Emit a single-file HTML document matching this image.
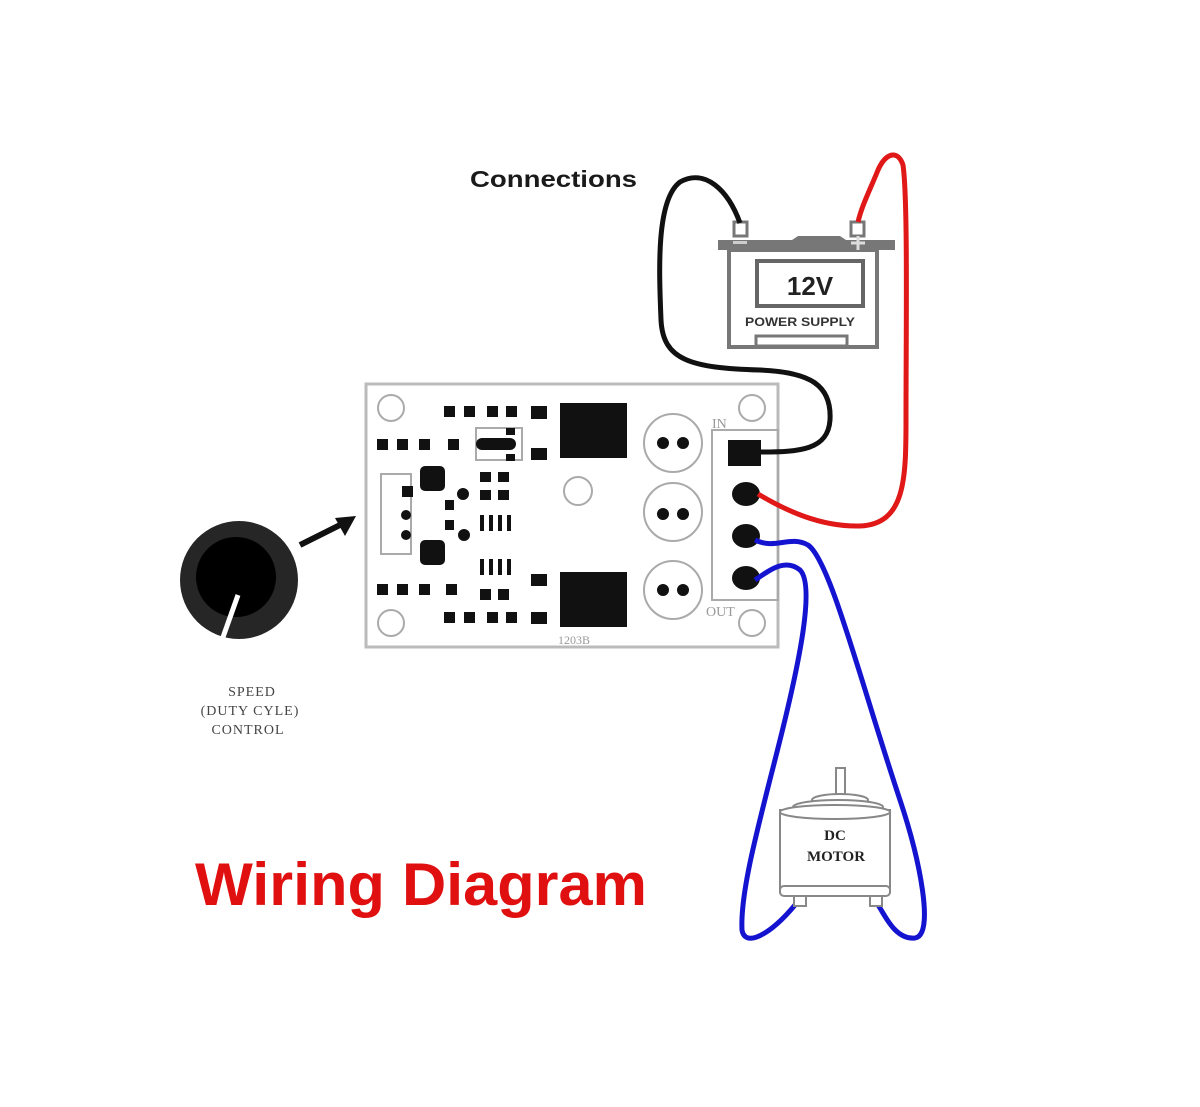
<!DOCTYPE html>
<html><head><meta charset="utf-8"><style>
html,body{margin:0;padding:0;background:#fff;}
svg{display:block;}
</style></head><body>
<svg width="1200" height="1107" viewBox="0 0 1200 1107" xmlns="http://www.w3.org/2000/svg">
<rect width="1200" height="1107" fill="#fff"/>
<text x="470" y="187" font-family="Liberation Sans, sans-serif" font-weight="bold" font-size="23" fill="#1a1a1a" textLength="167" lengthAdjust="spacingAndGlyphs">Connections</text>

<!-- Battery -->
<rect x="734" y="222" width="13" height="14" fill="#fff" stroke="#777" stroke-width="3"/>
<rect x="851" y="222" width="13" height="14" fill="#fff" stroke="#777" stroke-width="3"/>
<path d="M718 250 L718 240 L792 240 L798 236 L840 236 L846 240 L895 240 L895 250 Z" fill="#777"/>
<rect x="729" y="250" width="148" height="97" fill="#fff" stroke="#777" stroke-width="4"/>
<rect x="757" y="261" width="106" height="45" fill="#fff" stroke="#666" stroke-width="4"/>
<text x="810" y="295" text-anchor="middle" font-family="Liberation Sans, sans-serif" font-weight="bold" font-size="26" fill="#222">12V</text>
<text x="800" y="326" text-anchor="middle" font-family="Liberation Sans, sans-serif" font-weight="bold" font-size="12" fill="#333" textLength="110" lengthAdjust="spacingAndGlyphs">POWER SUPPLY</text>
<rect x="756" y="336" width="91" height="10" fill="#fff" stroke="#777" stroke-width="3"/>
<rect x="733" y="241" width="14" height="3" fill="#ccc"/>
<path d="M851 243 h14 M858 236 v14" stroke="#ddd" stroke-width="3"/>

<!-- PCB -->
<rect x="366" y="384" width="412" height="263" fill="#fff" stroke="#bbb" stroke-width="3"/>
<g fill="none" stroke="#aaa" stroke-width="2">
<circle cx="391" cy="408" r="13"/><circle cx="752" cy="408" r="13"/>
<circle cx="391" cy="623" r="13"/><circle cx="752" cy="623" r="13"/>
<circle cx="578" cy="491" r="14"/>
<circle cx="673" cy="443" r="29"/><circle cx="673" cy="512" r="29"/><circle cx="673" cy="590" r="29"/>
<rect x="712" y="430" width="66" height="170"/>
<rect x="381" y="474" width="30" height="80"/>
<rect x="476" y="428" width="46" height="32"/>
</g>
<g fill="#111">
<rect x="560" y="403" width="67" height="55"/>
<rect x="560" y="572" width="67" height="55"/>
<circle cx="663" cy="443" r="6"/><circle cx="683" cy="443" r="6"/>
<circle cx="663" cy="514" r="6"/><circle cx="683" cy="514" r="6"/>
<circle cx="663" cy="590" r="6"/><circle cx="683" cy="590" r="6"/>
<rect x="728" y="440" width="33" height="26"/>
<ellipse cx="746" cy="494" rx="14" ry="12"/>
<ellipse cx="746" cy="536" rx="14" ry="12"/>
<ellipse cx="746" cy="578" rx="14" ry="12"/>
<!-- top row -->
<rect x="444" y="406" width="11" height="11"/><rect x="464" y="406" width="11" height="11"/>
<rect x="487" y="406" width="11" height="11"/><rect x="506" y="406" width="11" height="11"/>
<rect x="531" y="406" width="16" height="13"/>
<rect x="377" y="439" width="11" height="11"/><rect x="397" y="439" width="11" height="11"/>
<rect x="419" y="439" width="11" height="11"/><rect x="448" y="439" width="11" height="11"/>
<rect x="476" y="438" width="40" height="12" rx="6"/>
<rect x="506" y="428" width="9" height="7"/><rect x="506" y="454" width="9" height="7"/>
<rect x="531" y="448" width="16" height="12"/>
<rect x="420" y="466" width="25" height="25" rx="5"/>
<rect x="420" y="540" width="25" height="25" rx="5"/>
<rect x="402" y="486" width="11" height="11"/>
<circle cx="406" cy="515" r="5"/><circle cx="406" cy="535" r="5"/>
<circle cx="463" cy="494" r="6"/><circle cx="464" cy="535" r="6"/>
<rect x="445" y="500" width="9" height="10"/><rect x="445" y="520" width="9" height="10"/>
<rect x="480" y="472" width="11" height="10"/><rect x="498" y="472" width="11" height="10"/>
<rect x="480" y="490" width="11" height="10"/><rect x="498" y="490" width="11" height="10"/>
<rect x="480" y="515" width="4" height="16"/><rect x="489" y="515" width="4" height="16"/><rect x="498" y="515" width="4" height="16"/><rect x="507" y="515" width="4" height="16"/>
<rect x="480" y="559" width="4" height="16"/><rect x="489" y="559" width="4" height="16"/><rect x="498" y="559" width="4" height="16"/><rect x="507" y="559" width="4" height="16"/>
<rect x="531" y="574" width="16" height="12"/>
<rect x="377" y="584" width="11" height="11"/><rect x="397" y="584" width="11" height="11"/>
<rect x="419" y="584" width="11" height="11"/><rect x="446" y="584" width="11" height="11"/>
<rect x="480" y="589" width="11" height="11"/><rect x="498" y="589" width="11" height="11"/>
<rect x="444" y="612" width="11" height="11"/><rect x="464" y="612" width="11" height="11"/>
<rect x="487" y="612" width="11" height="11"/><rect x="506" y="612" width="11" height="11"/>
<rect x="531" y="612" width="16" height="12"/>
</g>
<g font-family="Liberation Serif, serif" fill="#999" font-size="14">
<text x="712" y="428">IN</text>
<text x="706" y="616">OUT</text>
<text x="558" y="644" font-size="12">1203B</text>
</g>

<!-- Wires -->
<path d="M760 452 C800 452 828 450 830 420 C832 385 810 372 760 370 C690 368 663 360 661 320 C659 270 656 200 680 182 C705 168 728 190 740 223" fill="none" stroke="#111" stroke-width="5"/>
<path d="M758 494 C785 510 820 527 860 526 C905 524 906 480 906 420 C906 330 908 200 903 165 C898 150 886 152 878 170 C870 190 862 205 858 222" fill="none" stroke="#e01818" stroke-width="5"/>
<path d="M755 540 C775 550 790 535 808 545 C830 560 860 680 900 800 C920 860 935 935 915 938 C895 940 885 915 878 905" fill="none" stroke="#1414d0" stroke-width="5"/>
<path d="M755 580 C770 570 785 558 800 570 C815 585 800 660 780 740 C760 820 740 890 742 930 C745 948 770 935 795 905" fill="none" stroke="#1414d0" stroke-width="5"/>

<!-- Motor -->
<rect x="836" y="768" width="9" height="28" fill="#fff" stroke="#888" stroke-width="2"/>
<ellipse cx="840" cy="800" rx="28" ry="6" fill="#fff" stroke="#888" stroke-width="2"/>
<ellipse cx="838" cy="807" rx="45" ry="7" fill="#fff" stroke="#888" stroke-width="2"/>
<rect x="780" y="810" width="110" height="82" fill="#fff" stroke="#888" stroke-width="2"/>
<ellipse cx="835" cy="812" rx="55" ry="7" fill="#fff" stroke="#888" stroke-width="2"/>
<rect x="780" y="886" width="110" height="10" rx="4" fill="#fff" stroke="#888" stroke-width="2"/>
<rect x="794" y="896" width="12" height="10" fill="#fff" stroke="#888" stroke-width="2"/>
<rect x="870" y="896" width="12" height="10" fill="#fff" stroke="#888" stroke-width="2"/>
<text x="835" y="840" text-anchor="middle" font-family="Liberation Serif, serif" font-weight="bold" font-size="15" fill="#222">DC</text>
<text x="836" y="861" text-anchor="middle" font-family="Liberation Serif, serif" font-weight="bold" font-size="15" fill="#222">MOTOR</text>

<!-- Knob -->
<circle cx="239" cy="580" r="59" fill="#262626"/>
<circle cx="236" cy="577" r="40" fill="#000"/>
<line x1="238" y1="595" x2="222" y2="640" stroke="#fff" stroke-width="5"/>
<line x1="300" y1="545" x2="342" y2="524" stroke="#111" stroke-width="6"/>
<polygon points="356,516 335,518 345,536" fill="#111"/>
<g font-family="Liberation Serif, serif" font-size="14" fill="#444" text-anchor="middle" letter-spacing="1">
<text x="252" y="696">SPEED</text>
<text x="250" y="715">(DUTY CYLE)</text>
<text x="248" y="734">CONTROL</text>
</g>

<text x="195" y="905" font-family="Liberation Sans, sans-serif" font-weight="bold" font-size="60" fill="#e01010" textLength="452" lengthAdjust="spacingAndGlyphs">Wiring Diagram</text>
</svg>
</body></html>
